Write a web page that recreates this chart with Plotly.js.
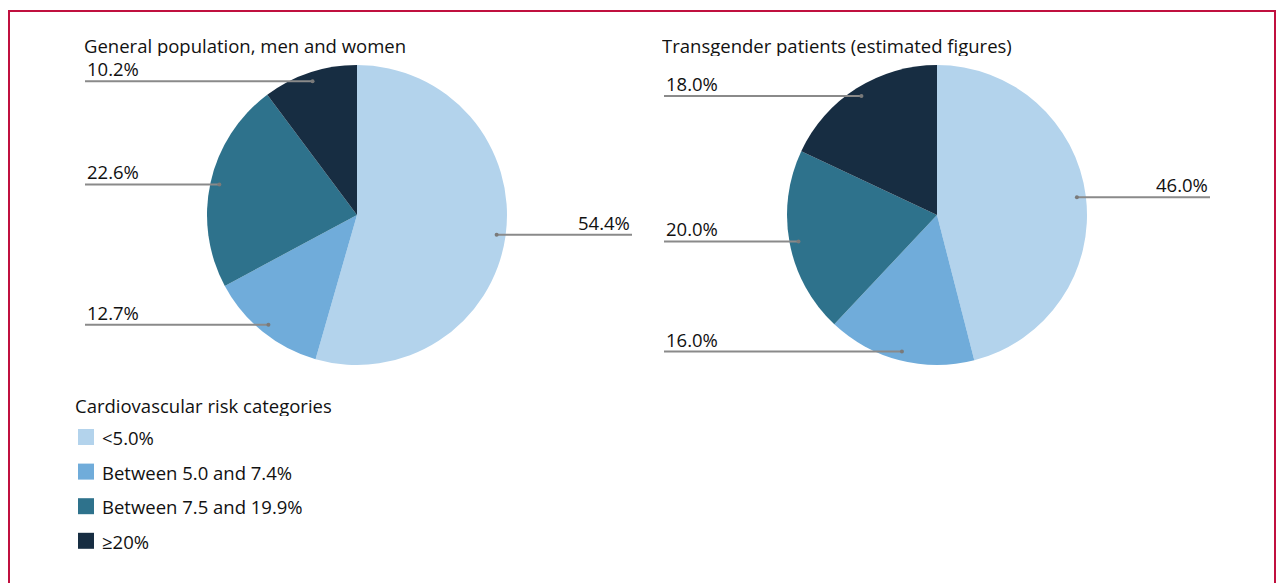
<!DOCTYPE html>
<html><head><meta charset="utf-8">
<script src="https://cdn.plot.ly/plotly-3.0.1.min.js"></script>
<style>html,body{margin:0;padding:0;background:#fff;}#chart{width:1276px;height:583px;}</style>
</head><body><div id="chart"></div>
<script>
const categories = ['<5.0%', 'Between 5.0 and 7.4%', 'Between 7.5 and 19.9%', '≥20%'];
const colors = ['#b3d3ec', '#70acda', '#2e728c', '#172d42'];
const generalValues = [54.4, 12.7, 22.6, 10.2];
const transgenderValues = [46.0, 16.0, 20.0, 18.0];
const panelTitles = ['General population, men and women', 'Transgender patients (estimated figures)'];
const legendTitle = 'Cardiovascular risk categories';

const W = 1276, H = 583;
const FONT = '"Open Sans", "Noto Sans", sans-serif';
const FS = 18.5;
const R = 150;
const pies = [
  {values: generalValues, cx: 357, cy: 215, leftX: 85, rightX: 632, titleX: 82},
  {values: transgenderValues, cx: 937, cy: 215, leftX: 664, rightX: 1210, titleX: 660}
];
const px = x => x / W;
const py = y => 1 - y / H;

const data = pies.map((p, i) => ({
  type: 'pie', values: p.values, labels: categories, sort: false, direction: 'clockwise', rotation: 0,
  marker: {colors: colors, line: {width: 0}}, textinfo: 'none', hoverinfo: 'label+value', showlegend: false,
  domain: {x: [px(p.cx - R), px(p.cx + R)], y: [py(p.cy + R), py(p.cy - R)]}
}));

const shapes = [];
const annotations = [];
// frame
shapes.push({type: 'rect', xref: 'paper', yref: 'paper', x0: px(9), x1: px(1275), y0: py(600), y1: py(11),
  line: {color: '#c0103f', width: 2}, fillcolor: 'rgba(0,0,0,0)'});

pies.forEach((p, i) => {
  annotations.push({xref: 'paper', yref: 'paper', x: px(p.titleX), y: py(45), xanchor: 'left', yanchor: 'middle',
    text: panelTitles[i], showarrow: false, height: 22, font: {family: FONT, size: FS, color: '#111'}});
  const total = p.values.reduce((a, b) => a + b, 0);
  let cum = 0;
  p.values.forEach((v, j) => {
    const mid = (cum + v / 2) / total * 2 * Math.PI;
    cum += v;
    const k = 0.94 * R;
    const dx = p.cx + k * Math.sin(mid);
    const dy = p.cy - k * Math.cos(mid);
    const right = Math.sin(mid) > 0;
    const endX = right ? p.rightX : p.leftX;
    shapes.push({type: 'line', xref: 'paper', yref: 'paper', x0: px(dx), y0: py(dy), x1: px(endX), y1: py(dy),
      line: {color: '#8a8a8a', width: 2}});
    shapes.push({type: 'circle', xref: 'paper', yref: 'paper', x0: px(dx - 2), x1: px(dx + 2), y0: py(dy + 2), y1: py(dy - 2),
      line: {width: 0}, fillcolor: '#7a7a7a'});
    annotations.push({xref: 'paper', yref: 'paper', x: px(endX), y: py(dy - 13), xanchor: right ? 'right' : 'left', yanchor: 'middle',
      text: v.toFixed(1) + '%', showarrow: false, height: 22, font: {family: FONT, size: FS, color: '#111'}});
  });
});

// legend
annotations.push({xref: 'paper', yref: 'paper', x: px(73), y: py(405), xanchor: 'left', yanchor: 'middle',
  text: legendTitle, showarrow: false, height: 22, font: {family: FONT, size: FS, color: '#111'}});
categories.forEach((c, j) => {
  const y = 437 + j * 34.6;
  shapes.push({type: 'rect', xref: 'paper', yref: 'paper', x0: px(78), x1: px(94), y0: py(y + 8), y1: py(y - 8),
    line: {width: 0}, fillcolor: colors[j]});
  annotations.push({xref: 'paper', yref: 'paper', x: px(100), y: py(y), xanchor: 'left', yanchor: 'middle',
    text: c, showarrow: false, height: 22, font: {family: FONT, size: FS, color: '#111'}});
});

const layout = {width: W, height: H, margin: {l: 0, r: 0, t: 0, b: 0}, paper_bgcolor: '#fff',
  showlegend: false, shapes: shapes, annotations: annotations, font: {family: FONT}};
Plotly.newPlot('chart', data, layout, {displayModeBar: false, staticPlot: true});
</script></body></html>
